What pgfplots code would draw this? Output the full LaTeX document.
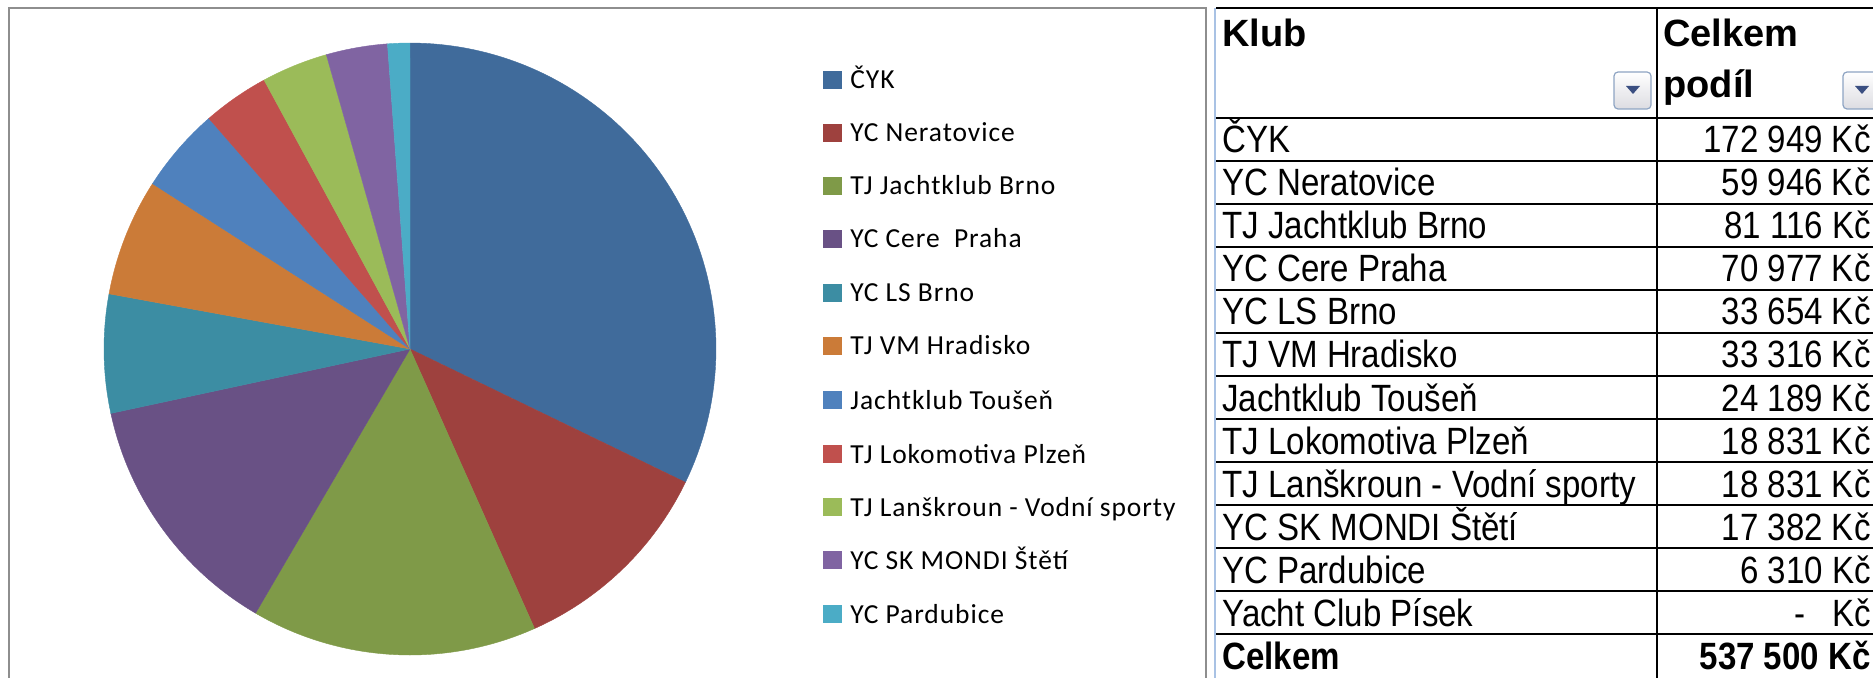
\documentclass[border=0pt]{standalone}
\usepackage{pgfplots}
\pgfplotsset{compat=1.18}
\usepackage{fontspec}
\setmainfont{Liberation Sans}
\newfontfamily\legfont[LetterSpace=3.4]{Carlito}
\newfontfamily\tfont[FakeStretch=0.87]{Liberation Sans}
\definecolor{c1}{HTML}{406B9B}
\definecolor{c2}{HTML}{9E413E}
\definecolor{c3}{HTML}{7F9A48}
\definecolor{c4}{HTML}{695185}
\definecolor{c5}{HTML}{3C8DA3}
\definecolor{c6}{HTML}{CB7B38}
\definecolor{c7}{HTML}{4F81BD}
\definecolor{c8}{HTML}{C0504D}
\definecolor{c9}{HTML}{9BBB59}
\definecolor{c10}{HTML}{8064A2}
\definecolor{c11}{HTML}{4BACC6}
\definecolor{framegray}{HTML}{8E8E8E}
\definecolor{tblue}{HTML}{A9C2E4}
\definecolor{btnborder}{HTML}{8EA4C3}
\definecolor{btntri}{HTML}{3B4F81}

\newcommand\total{537501}
\xdef\cum{0}
\newcommand\slice[2]{%
  \edef\sa{\cum}%
  \edef\sb{\fpeval{\cum+360*#1/\total}}%
  \edef\doslice{\noexpand\addplot[fill=#2,draw=#2,line width=0.2pt,domain=\sa:\sb,samples=80,variable=\noexpand\t]
    ({410+306*sin(\noexpand\t)},{349-306*cos(\noexpand\t)}) -- (axis cs:410,349) -- cycle;}%
  \doslice
  \xdef\cum{\sb}%
}

\begin{document}
\begin{tikzpicture}
\path[use as bounding box] (0pt,0pt) rectangle (936.5pt,-339pt);
\begin{axis}[at={(0pt,-339pt)}, anchor=south west,
  width=936.5pt, height=339pt, scale only axis,
  xmin=0, xmax=1873, ymin=0, ymax=678, y dir=reverse,
  hide axis, clip=false]
\slice{172949}{c1}
\slice{59946}{c2}
\slice{81116}{c3}
\slice{70977}{c4}
\slice{33654}{c5}
\slice{33316}{c6}
\slice{24189}{c7}
\slice{18831}{c8}
\slice{18831}{c9}
\slice{17382}{c10}
\slice{6310}{c11}
\end{axis}
\begin{scope}[x=0.5pt, y=-0.5pt]
% chart frame
\draw[framegray, line width=1.2pt] (9,690) -- (9,8) -- (1206,8) -- (1206,690);
% legend
\foreach \y/\c/\lab in {80/c1/ČYK, 133/c2/YC Neratovice, 186/c3/TJ Jachtklub Brno,
  239/c4/YC Cere\ \ Praha, 293/c5/YC LS Brno, 346/c6/TJ VM Hradisko,
  400/c7/Jachtklub Toušeň, 454/c8/TJ Lokomotiva Plzeň,
  507/c9/TJ Lanškroun - Vodní sporty, 560/c10/YC SK MONDI Štětí, 614/c11/YC Pardubice}{
  \fill[\c] (823,\y-9) rectangle (842,\y+9);
  \node[anchor=base west, inner sep=0pt, font=\legfont\fontsize{13.75}{16}\selectfont] at (850,\y+9) {\lab};
}
% table
\draw[tblue, line width=1pt] (1215,8) -- (1215,678);
\draw[black, line width=1pt] (1657,8) -- (1657,678);
\foreach \y in {8,118,161,204,247,290,333,376,419,462,505,548,591,634}{
  \draw[black, line width=1pt] (1216,\y) -- (1873,\y);
}
\node[anchor=base west, inner sep=0pt, font=\bfseries\fontsize{19}{22}\selectfont] at (1222,47) {Klub};
\node[anchor=base west, inner sep=0pt, font=\bfseries\fontsize{19}{22}\selectfont] at (1663,47) {Celkem};
\node[anchor=base west, inner sep=0pt, font=\bfseries\fontsize{19}{22}\selectfont] at (1663,98) {podíl};
% dropdown buttons
\shade[top color=white, bottom color=blue!8!gray!25, draw=btnborder, line width=0.6pt, rounded corners=2pt] (1614,72) rectangle (1651,109);
\fill[btntri] (1626,86) -- (1640,86) -- (1633,94) -- cycle;
\shade[top color=white, bottom color=blue!8!gray!25, draw=btnborder, line width=0.6pt, rounded corners=2pt] (1843,72) rectangle (1880,109);
\fill[btntri] (1855,86) -- (1869,86) -- (1862,94) -- cycle;
\foreach \y/\lab/\val in {139.5/ČYK/172 949 Kč, 182.5/YC Neratovice/59 946 Kč,
  225.5/TJ Jachtklub Brno/81 116 Kč, 268.5/YC Cere Praha/70 977 Kč,
  311.5/YC LS Brno/33 654 Kč, 354.5/TJ VM Hradisko/33 316 Kč,
  397.5/Jachtklub Toušeň/24 189 Kč, 440.5/TJ Lokomotiva Plzeň/18 831 Kč,
  483.5/TJ Lanškroun - Vodní sporty/18 831 Kč, 526.5/YC SK MONDI Štětí/17 382 Kč,
  569.5/YC Pardubice/6 310 Kč}{
  \node[anchor=base west, inner sep=0pt, font=\tfont\fontsize{19}{22}\selectfont] at (1222,\y+13.5) {\lab};
  \node[anchor=base east, inner sep=0pt, font=\tfont\fontsize{19}{22}\selectfont] at (1871,\y+13.5) {\val};
}
\node[anchor=base west, inner sep=0pt, font=\tfont\fontsize{19}{22}\selectfont] at (1222,626) {Yacht Club Písek};
\node[anchor=base, inner sep=0pt, font=\tfont\fontsize{19}{22}\selectfont] at (1800,626) {-};
\node[anchor=base east, inner sep=0pt, font=\tfont\fontsize{19}{22}\selectfont] at (1871,626) {Kč};
\node[anchor=base west, inner sep=0pt, font=\tfont\bfseries\fontsize{19}{22}\selectfont] at (1222,669) {Celkem};
\node[anchor=base east, inner sep=0pt, font=\tfont\bfseries\fontsize{19}{22}\selectfont] at (1871,669) {537 500 Kč};
\end{scope}
\end{tikzpicture}
\end{document}
